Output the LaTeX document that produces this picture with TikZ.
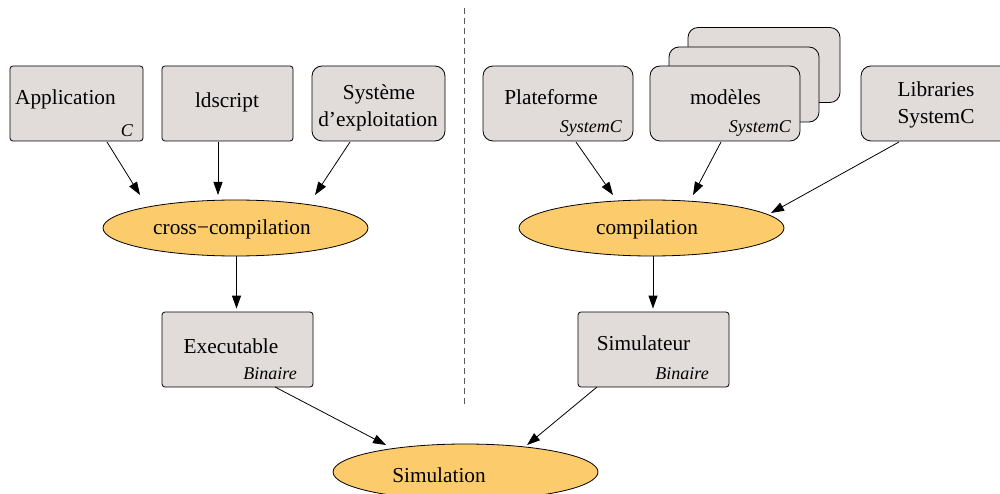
\documentclass[tikz,border=0pt]{standalone}
\usepackage{fontspec}
\setmainfont{Liberation Serif}
\usetikzlibrary{arrows.meta,shapes.geometric,calc}
\definecolor{boxfill}{HTML}{E1DBD9}
\definecolor{ellfill}{HTML}{FCCB6B}
\tikzset{
  box/.style={draw=black, line width=0.8pt, fill=boxfill, minimum height=75pt, inner sep=0pt, rounded corners=#1},
  box/.default=3pt,
  ell/.style={draw=black, line width=0.8pt, fill=ellfill, ellipse, minimum width=265pt, minimum height=56pt, inner sep=0pt},
  txt/.style={anchor=base, inner sep=0pt, font=\fontsize{21.3}{24}\selectfont},
  sub/.style={anchor=base east, inner sep=0pt, font=\fontsize{18}{20}\selectfont\itshape},
  arr/.style={-{Triangle[length=13pt,width=9pt]}, line width=0.8pt, black},
}
\begin{document}
\begin{tikzpicture}[x=1pt,y=-1pt]
\useasboundingbox (0,0) rectangle (1000,494);
\clip (0,0) rectangle (1000,494);
% dashed separator
\coordinate (dtop) at (464,8);
\coordinate (dbot) at (464,406);
\draw[gray!70!black, line width=1pt, dash pattern=on 6pt off 4pt] (dtop) -- (dbot);
% left top boxes
\node[box, minimum width=133pt] (app) at (76.5,103.5) {};
\node[txt, anchor=base west] (appt) at (15,105) {Application};
\node[sub] (appc) at (133,137) {C};
\node[box, minimum width=131pt] (ld) at (227.5,103.5) {};
\node[txt] (ldt) at (227,108) {ldscript};
\node[box=10pt, minimum width=133pt] (sys) at (378.5,103.5) {};
\node[txt] (syst1) at (379,100) {Système};
\node[txt] (syst2) at (378,127) {d’exploitation};
% right top boxes
\node[box=10pt, minimum width=150pt] (plat) at (558,103.5) {};
\node[txt] (platt) at (551,105) {Plateforme};
\node[sub] (plats) at (622,133) {SystemC};
\node[box=10pt, minimum width=152pt] (modb) at (764,65) {};
\node[box=10pt, minimum width=150pt] (modm) at (744,84.5) {};
\node[box=10pt, minimum width=150pt] (mod) at (725,103.5) {};
\node[txt] (modt) at (725.5,105) {modèles};
\node[sub] (mods) at (791,133) {SystemC};
\node[box=10pt, minimum width=150pt] (lib) at (936,103.5) {};
\node[txt] (libt1) at (936,97) {Libraries};
\node[txt] (libt2) at (936,124) {SystemC};
% ellipses
\node[ell] (cc) at (235.5,228) {};
\node[txt] (cct) at (232,235) {cross\textminus compilation};
\node[ell] (comp) at (651.5,228) {};
\node[txt] (compt) at (647,235) {compilation};
% middle boxes
\node[box, minimum width=151pt] (exe) at (237.5,349.5) {};
\node[txt] (exet) at (231,353) {Executable};
\node[sub] (exes) at (297,379) {Binaire};
\node[box, minimum width=151pt] (simr) at (653.5,349.5) {};
\node[txt] (simrt) at (643.5,350) {Simulateur};
\node[sub] (simrs) at (709,379) {Binaire};
% bottom ellipse
\node[ell] (simu) at (465.5,472) {};
\node[txt] (simut) at (439,482) {Simulation};
% arrows
\draw[arr] ($(app.center)+(30.5,38.5)$) -- ($(cc.center)+(-95.5,-33)$);
\draw[arr] ($(ld.center)+(-9.5,38.5)$) -- ($(cc.center)+(-17.5,-33)$);
\draw[arr] ($(sys.center)+(-28.5,38.5)$) -- ($(cc.center)+(79.5,-33)$);
\draw[arr] ($(cc.south)+(1,0)$) -- ($(exe.north)+(-1,-3)$);
\draw[arr] ($(plat.center)+(18,38.5)$) -- ($(comp.center)+(-38.5,-33)$);
\draw[arr] ($(mod.center)+(-4,38.5)$) -- ($(comp.center)+(41.5,-33)$);
\draw[arr] ($(lib.center)+(-37,38.5)$) -- ($(comp.center)+(119.5,-15)$);
\draw[arr] ($(comp.south)+(1.5,0)$) -- ($(simr.north)+(-0.5,-3)$);
\draw[arr] ($(exe.center)+(37.5,37.5)$) -- ($(simu.center)+(-79.5,-27)$);
\draw[arr] ($(simr.center)+(-56.5,37.5)$) -- ($(simu.center)+(61.5,-27)$);
\end{tikzpicture}
\end{document}
